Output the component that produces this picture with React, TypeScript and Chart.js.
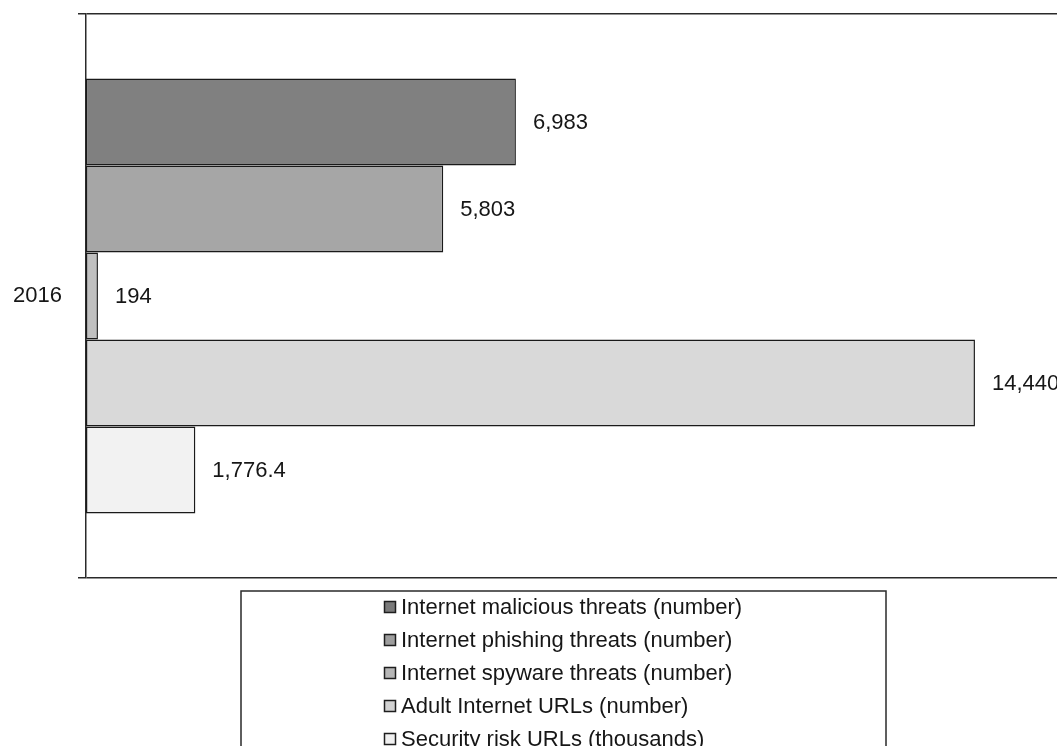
import React, { useEffect, useRef } from "react";
import { Chart, registerables } from "chart.js";

Chart.register(...registerables);

// Data
const categories = ["2016"];
const seriesLabels = [
  "Internet malicious threats (number)",
  "Internet phishing threats (number)",
  "Internet spyware threats (number)",
  "Adult Internet URLs (number)",
  "Security risk URLs (thousands)",
];
const seriesValues = [6983, 5803, 194, 14440, 1776.4];
const seriesColors = ["#808080", "#a6a6a6", "#c0c0c0", "#d9d9d9", "#f2f2f2"];
const markerColors = ["#7a7a7a", "#9e9e9e", "#b6b6b6", "#d2d2d2", "#f0f0f0"];
const valueAxisMax = 16000;

// Layout
const CANVAS_W = 1100;
const CANVAS_H = 790;
const FONT_FAMILY = "'Liberation Sans', Arial, sans-serif";
const FONT_SIZE = 22;
const TEXT_COLOR = "#161616";
const LINE_COLOR = "#2a2a2a";

const numberFormat = new Intl.NumberFormat("en-US", { maximumFractionDigits: 1 });

const valueLabelPlugin = {
  id: "valueLabels",
  afterDatasetsDraw(chart: any) {
    const ctx = chart.ctx;
    ctx.save();
    ctx.font = `${FONT_SIZE}px ${FONT_FAMILY}`;
    ctx.fillStyle = TEXT_COLOR;
    ctx.textAlign = "left";
    ctx.textBaseline = "middle";
    chart.data.datasets.forEach((ds: any, i: number) => {
      const meta = chart.getDatasetMeta(i);
      meta.data.forEach((bar: any, j: number) => {
        const v = ds.data[j] as number;
        ctx.fillText(numberFormat.format(v), bar.x + 17, bar.y + 1);
      });
    });
    ctx.restore();
  },
};

const boxLegendPlugin = {
  id: "boxLegend",
  afterDraw(chart: any) {
    const ctx = chart.ctx;
    const area = chart.chartArea;
    const boxLeft = 241;
    const boxRight = 886;
    const boxTop = area.bottom + 13;
    const rowStep = 33;
    const marker = 12;
    const gap = 5;
    ctx.save();
    ctx.strokeStyle = LINE_COLOR;
    ctx.lineWidth = 1.5;
    ctx.strokeRect(boxLeft, boxTop, boxRight - boxLeft, CANVAS_H);
    ctx.font = `${FONT_SIZE}px ${FONT_FAMILY}`;
    const labels = chart.data.datasets.map((d: any) => d.label as string);
    const maxW = Math.max(...labels.map((l: string) => ctx.measureText(l).width));
    const contentW = marker + gap + maxW;
    const startX = Math.round((boxLeft + boxRight) / 2 - contentW / 2);
    labels.forEach((label: string, i: number) => {
      const cy = boxTop + 16 + i * rowStep;
      ctx.fillStyle = markerColors[i];
      ctx.fillRect(startX + 0.5, cy - marker / 2 + 0.5, marker - 1, marker - 1);
      ctx.strokeStyle = "#1e1e1e";
      ctx.lineWidth = 1.5;
      ctx.strokeRect(startX + 0.5, cy - marker / 2 + 0.5, marker - 1, marker - 1);
      ctx.fillStyle = TEXT_COLOR;
      ctx.textAlign = "left";
      ctx.textBaseline = "middle";
      ctx.fillText(label, startX + marker + gap, cy + 1);
    });
    ctx.restore();
  },
};

export default function App() {
  const canvasRef = useRef<HTMLCanvasElement | null>(null);

  useEffect(() => {
    const canvas = canvasRef.current;
    if (!canvas) return;
    const chart = new Chart(canvas, {
      type: "bar",
      data: {
        labels: categories,
        datasets: seriesLabels.map((label, i) => ({
          label,
          data: [seriesValues[i]],
          backgroundColor: seriesColors[i],
          borderColor: "#1a1a1a",
          borderWidth: 1.5,
          borderSkipped: false,
          categoryPercentage: 0.771,
          barPercentage: 1,
        })),
      },
      options: {
        indexAxis: "y",
        responsive: false,
        devicePixelRatio: 1,
        animation: false,
        layout: { padding: { left: 0, top: 14, right: 29, bottom: CANVAS_H - 578 } },
        plugins: {
          legend: { display: false },
          tooltip: { enabled: false },
          title: { display: false },
        },
        scales: {
          x: {
            display: false,
            min: 0,
            max: valueAxisMax,
          },
          y: {
            afterFit(scale: any) {
              scale.width = 86;
              scale.paddingTop = 0;
              scale.paddingBottom = 0;
            },
            grid: {
              offset: true,
              color: LINE_COLOR,
              lineWidth: 1.5,
              tickLength: 8,
              drawOnChartArea: true,
            },
            border: { display: true, color: LINE_COLOR, width: 1.5 },
            ticks: {
              padding: 16,
              color: TEXT_COLOR,
              font: { family: FONT_FAMILY, size: FONT_SIZE },
            },
          },
        },
      },
      plugins: [valueLabelPlugin, boxLegendPlugin],
    });
    return () => chart.destroy();
  }, []);

  return (
    <div
      style={{
        position: "fixed",
        left: 0,
        top: 0,
        width: 1057,
        height: 746,
        overflow: "hidden",
        background: "#ffffff",
      }}
    >
      <canvas
        ref={canvasRef}
        width={CANVAS_W}
        height={CANVAS_H}
        style={{ display: "block", width: CANVAS_W, height: CANVAS_H }}
      />
    </div>
  );
}
